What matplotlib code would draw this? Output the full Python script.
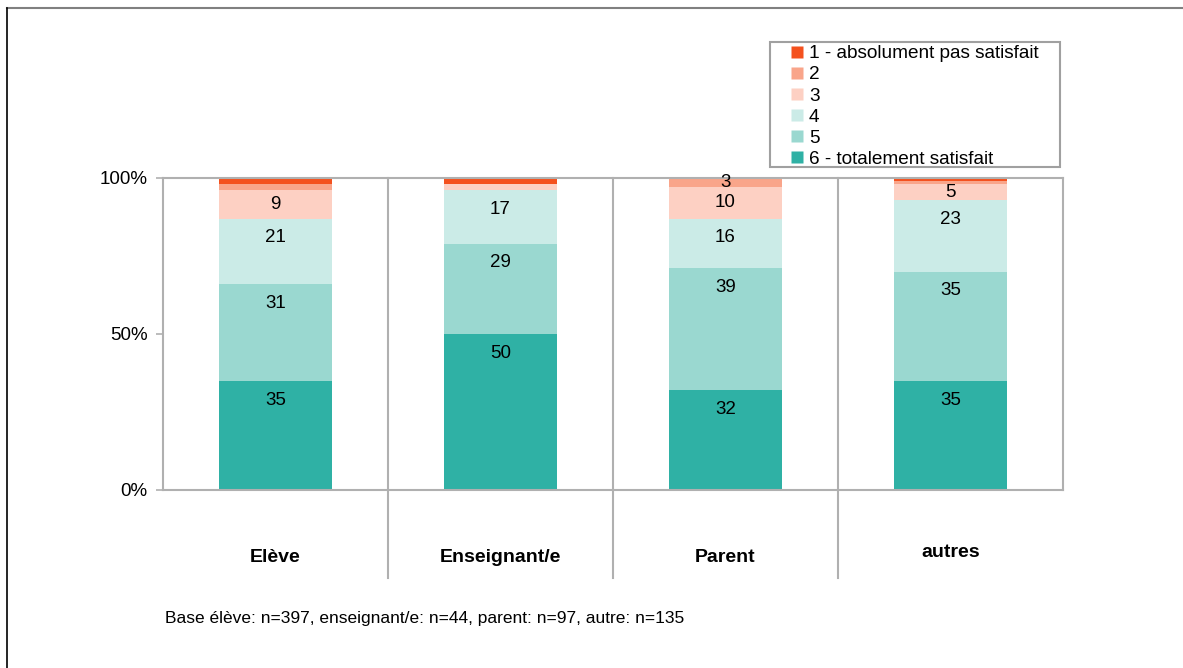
import matplotlib.pyplot as plt
import numpy as np
from matplotlib.lines import Line2D
from matplotlib.patches import Rectangle

plt.rcParams['font.family'] = ['Liberation Sans', 'DejaVu Sans']

### Données
categories = ['Elève', 'Enseignant/e', 'Parent', 'autres']
levels = ['1 - absolument pas satisfait', '2', '3', '4', '5', '6 - totalement satisfait']
colors = ['#F4511E', '#F9A58A', '#FDD0C3', '#CBEBE7', '#9AD8D0', '#2FB1A5']

# valeurs en %, de 6 (bas) vers 1 (haut)
v6 = [35, 50, 32, 35]
v5 = [31, 29, 39, 35]
v4 = [21, 17, 16, 23]
v3 = [9, 2, 10, 5]
v2 = [2, 0, 3, 1]
v1 = [2, 2, 0, 1]

footnote = 'Base élève: n=397, enseignant/e: n=44, parent: n=97, autre: n=135'

stack = [v6, v5, v4, v3, v2, v1]
stack_colors = colors[::-1]

W, H = 1183, 668
fig = plt.figure(figsize=(W / 100, H / 100), dpi=100)
ax = fig.add_axes([163 / W, 1 - 490 / H, 900 / W, 312 / H])

# étiquettes placées en haut du segment (comme Excel "intérieur haut")
label_off = 6.2  # en % de l'axe

x = np.arange(len(categories))
bottom = np.zeros(len(categories))
for vals, col in zip(stack, stack_colors):
    vals = np.array(vals, dtype=float)
    ax.bar(x, vals, 0.5, bottom=bottom, color=col, edgecolor='none', zorder=2)
    for xi, b, v in zip(x, bottom, vals):
        if v >= 3:
            yl = b + v - min(v / 2, label_off)
            ax.text(xi, yl, f'{int(v)}', ha='center', va='center',
                    fontsize=13.5, color='black', zorder=3)
    bottom += vals

ax.set_xlim(-0.5, 3.5)
ax.set_ylim(0, 100)
ax.set_yticks([0, 50, 100])
ax.set_yticklabels(['0%', '50%', '100%'], fontsize=13.5)
ax.set_xticks([])
ax.tick_params(axis='y', length=5, color='#B0B0B0', width=1.2, pad=6)

for s in ax.spines.values():
    s.set_color('#B0B0B0')
    s.set_linewidth(1.5)

# séparateurs verticaux entre catégories
for xs in [0.5, 1.5, 2.5]:
    ax.plot([xs, xs], [100, -28.2], color='#B0B0B0', lw=1.5, clip_on=False, zorder=1)

# étiquettes des catégories
label_y = [-21.5, -21.5, -21.5, -20.0]
for xi, lab, ly in zip(x, categories, label_y):
    ax.text(xi, ly, lab, ha='center', va='center', fontsize=14,
            fontweight='bold')

# légende
handles = [Line2D([0], [0], marker='s', color='none', markerfacecolor=c,
                  markeredgecolor='none', markersize=8) for c in colors]
leg = fig.legend(handles, levels, loc='upper left',
                 bbox_to_anchor=(789 / W, 1 - 45 / H),
                 frameon=False, fontsize=13.7,
                 handlelength=0.8, handletextpad=0.25, labelspacing=0.2,
                 borderpad=0.0, borderaxespad=0)
fig.add_artist(Rectangle((770 / W, 1 - 167 / H), 290 / W, 125 / H,
                         transform=fig.transFigure, facecolor='none',
                         edgecolor='#A0A0A0', lw=1.5))

fig.text(165 / W, 1 - 618 / H, footnote, fontsize=12.5, va='center')

# cadre extérieur
fig.add_artist(Line2D([7 / W, 1], [1 - 8 / H, 1 - 8 / H],
                      color='#808080', lw=1.5, transform=fig.transFigure))
fig.add_artist(Line2D([7 / W, 7 / W], [0, 1 - 8 / H],
                      color='black', lw=1.2, transform=fig.transFigure))

fig.savefig('out.png', dpi=100)
